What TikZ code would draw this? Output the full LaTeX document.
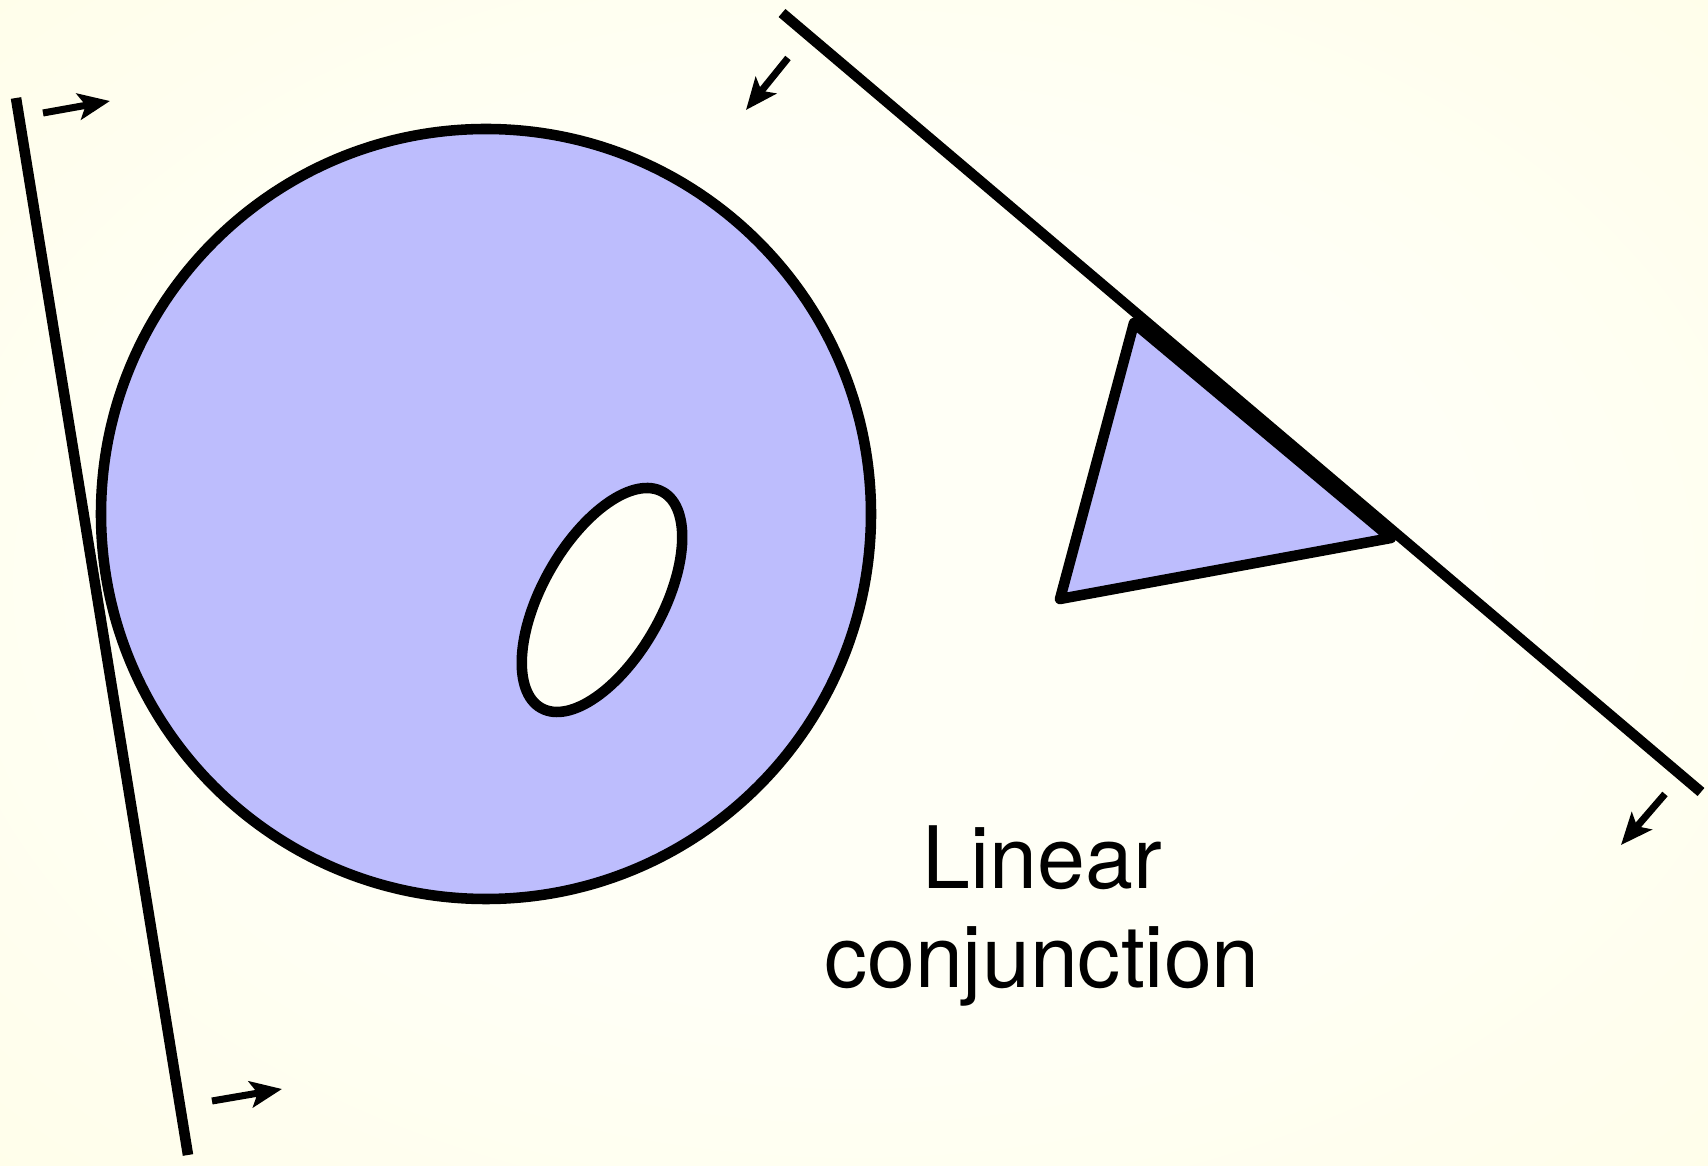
\documentclass[tikz,border=0pt]{standalone}
\usepackage{fontspec}
\setmainfont{TeX Gyre Heros}
\usepackage{tikz}
\usetikzlibrary{arrows.meta}

\definecolor{bgin}{RGB}{255,255,246}
\definecolor{bgout}{RGB}{254,252,210}
\definecolor{lilac}{RGB}{189,189,253}
\pgfdeclareradialshading{bgglow}{\pgfpoint{0bp}{0bp}}{color(0bp)=(bgin); color(18bp)=(bgin); color(71bp)=(bgout)}

\begin{document}
\begin{tikzpicture}[x=0.01cm,y=0.01cm,
  outline/.style={line width=3pt,line join=round},
  push/.style={line width=2pt,-{Stealth[length=9pt,width=7.5pt,inset=2pt]}}]
% background
\shade[shading=bgglow] (0,0) rectangle (1708,1166);
\useasboundingbox (0,0) rectangle (1708,1166);
% blob with a hole
\fill[lilac,even odd rule] (486,652) circle (385)
  (602,566) [rotate around={60.6:(602,566)}] ellipse (124 and 60);
\draw[outline] (486,652) circle (385);
\draw[outline,fill=bgin] (602,566) [rotate around={60.6:(602,566)}] ellipse (124 and 60);
% triangle
\draw[outline,fill=lilac] (1134,843)--(1391,628)--(1060,567)--cycle;
% supporting lines
\draw[outline] (16,1068)--(188,11);
\draw[outline] (782,1153)--(1701,374);
% which side
\draw[push] (43,1053)--(110,1065);
\draw[push] (212,65)--(282,77);
\draw[push] (788,1108)--(746,1056);
\draw[push] (1665,372)--(1621,321);
\node (lbl) [align=center,inner sep=0pt,font={\fontsize{24.5}{28.2}\selectfont}]
  at (1042,250) {Linear\\conjunction};
\end{tikzpicture}
\end{document}
